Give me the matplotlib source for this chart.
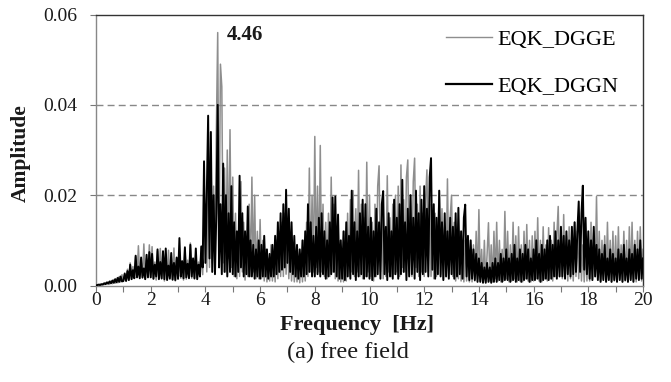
import numpy as np
import matplotlib
matplotlib.use("Agg")
import matplotlib.pyplot as plt

# Frequency grid step 0.05 Hz from 0 to 20 Hz
freq_step = 0.05
# Amplitudes in units of 1e-3
dgge_milli = [
    0.0,0.2,0.1,0.3,0.1,0.4,0.2,0.6,0.3,0.8,0.3,1.0,0.4,1.3,0.5,1.6,0.6,2.0,0.8,2.4,
    0.9,2.8,1.0,3.6,1.2,5.0,1.4,4.2,1.6,6.4,1.8,8.8,2.0,5.5,1.6,9.2,1.4,6.0,1.8,9.0,
    1.8,8.6,1.4,5.2,1.2,7.6,1.6,8.2,1.4,4.8,1.0,6.4,1.4,7.8,1.8,5.0,1.2,8.3,1.0,6.0,
    1.4,7.4,1.6,4.8,1.2,8.6,1.4,5.6,2.0,9.4,1.6,6.0,1.4,7.2,1.8,5.2,2.0,8.8,2.4,13.0,
    18,3,24,4,30,5,22,3,34,56,8,49,44,5,26,3,30,6,34.5,4,
    24,2,16,1.5,12,2,23,3,14,1.2,10,2,18,2,24,3,20,1.5,12,1.5,
    14.6,1.5,10,1,8,0.8,6,1,9,1,7,0.8,10,1.5,12,2,14,2,16,2.5,
    12,1.5,10,1,8,0.8,6,0.8,5,0.6,7,0.8,10,1,14,2,26,3,20,3,
    33,4,22,3,31,3,18,2,14,1.5,16,2,24,3,18,1.5,12,1,9,0.8,
    8,0.8,12,1,16,2,19,3,21,2,17,3,25.5,2,18,1.5,15,2,27.3,3,
    20,2,14,1,18,2,22,26.5,3,16,1.5,12,2,24.3,3,15,2,18,2.5,20,
    3,22,2,26.7,4,19,3,24,27.8,3,20,2,23,28.2,4,18,2,22,3,16,
    2,19,25.6,3,18,2,14,1.5,16,2,12,21,2.5,17,1.5,13,2,23.6,3,15,
    20,2,14,1,11,1.5,12,1,9,0.8,10,1,8,0.8,7,0.8,9,1,12,1.5,
    16.8,1,8,0.8,10,0.8,7,13.9,1,9,0.8,12,1.5,14,1,10,0.8,8,1,16.4,
    1.5,12,0.8,9,1,14,1.5,11,0.8,13,1,9,0.8,12,1.5,13.5,1,10,0.8,11,
    1,12,1.5,15,1,10,0.8,13,1.5,9,1,12.8,1.5,10,1,14,2,11,17.5,2,
    12,1.5,15.7,2,11,1,13,1.5,10,1,14,2,12,1.5,11,1,9,0.8,8,1,
    10,1,14,1.5,12,2,19.7,2,12,1,10,1.5,11,1,14,1.5,10,0.8,12,1,
    11,1,13,1.5,9,0.8,12,1,10,0.8,13,1.5,14,1,10,0.8,12,1.5,13,1,
    8,
]
dggn_milli = [
    0.0,0.1,0.2,0.1,0.3,0.2,0.5,0.3,0.7,0.4,0.9,0.5,1.1,0.6,1.4,0.7,1.7,0.8,2.0,0.9,
    1.0,2.6,1.0,3.2,1.2,4.6,1.4,3.4,1.6,6.6,1.8,4.2,1.6,6.2,1.8,3.8,1.4,6.8,1.8,7.4,
    1.8,7.0,1.5,4.6,2.0,8.0,1.4,5.2,1.6,7.6,1.4,8.2,1.2,4.4,1.5,7.2,1.3,5.0,1.2,6.2,
    1.5,10.5,2.0,5.4,1.6,8.4,1.8,4.8,1.6,9.0,2.0,6.0,1.6,8.2,1.4,4.6,2.0,8.6,4,27.5,
    5,20,37.6,6,34,3,20,2.5,16,40,4,18,2.5,27,3,20,2,16,3,22,
    2.5,14,2,12,3,24.3,4,16,2,12,2.5,17.5,2,10,2,9,1.5,8,2,10,
    1.5,9,2,11,2,8,1.5,7,2,9,2,11,2.5,14,3,16,3.5,18,4,21.2,
    5,17,3,14,2.5,11,2,9,1.5,8,2,10,2,12,2.5,18,3,14,2,11,
    2,13,2.5,15,2,16,2.5,12,1.5,10,2,14,2.5,19.5,3,19.7,2,15.7,1.5,10,
    1.5,12,1.2,14,2,11,1.5,21,2.5,14,1.2,12,2,16,2.5,19,1.5,18,2,13,
    1.5,15,1.2,12,2,17,2.5,14,1.5,18,20.9,2.5,13,1.2,16,2,12,1.5,19,2.5,
    15,1.5,18,2.5,23.4,3,14,1.2,17,2,20,2.5,15,1.5,21,3,16,1.2,19,2.5,
    22,3,17,2,24,28.2,3.5,18,1.5,15,2.5,21,2,14,1.2,16,2,12,1.5,15,
    2.5,13,1.5,16,2,17.2,2.5,12,1.5,15,17.9,2,11,1.2,10,1.5,8,1.2,7,0.8,
    6,0.8,5,0.6,4,0.6,5,0.8,4,0.6,5,0.8,6,0.8,5,1.2,7,0.8,6,1.2,
    8,1.2,6,0.8,7,1.2,9,0.8,6,1.2,8,0.8,7,1.2,9,1.5,8,0.8,6,1.2,
    8,1.2,10,1.5,7,0.8,9,1.2,8,1.5,10,1.2,11,1.5,9,2,12,1.5,10,2,
    13,2,11,1.5,12,2.5,10,2,13,2.5,14,3,12,18.6,3,16,22.1,3.5,15,2.5,
    12,1.5,10,1.2,13,2,9,1.2,8,0.8,7,1.2,9,0.8,6,1.2,8,0.8,7,1.2,
    6,0.8,8,1.2,7,0.8,9,1.2,6,0.8,8,1.2,7,0.8,9,1.5,8,1.2,10,1.5,
    6,
]
series_labels = ["EQK_DGGE", "EQK_DGGN"]
x_tick_labels = ["0", "2", "4", "6", "8", "10", "12", "14", "16", "18", "20"]
y_tick_labels = ["0.00", "0.02", "0.04", "0.06"]
peak_label = "4.46"
peak_pos = (4.79, 0.0554)

plt.rcParams['font.family'] = ['Liberation Serif', 'DejaVu Serif']

W, H = 671, 382
fig = plt.figure(figsize=(W / 100, H / 100), dpi=100)
ax_l, ax_r, ax_t, ax_b = 96, 643, 14.5, 285.5
ax = fig.add_axes([ax_l / W, 1 - ax_b / H, (ax_r - ax_l) / W, (ax_b - ax_t) / H])

f_e = np.arange(len(dgge_milli)) * freq_step
f_n = np.arange(len(dggn_milli)) * freq_step
ax.plot(f_e, np.array(dgge_milli) / 1000.0, color='#8e8e8e', lw=1.1, label=series_labels[0], zorder=2)
ax.plot(f_n, np.array(dggn_milli) / 1000.0, color='#000000', lw=1.4, label=series_labels[1], zorder=3)

ax.set_xlim(0, 20)
ax.set_ylim(0, 0.06)
ax.set_xticks(np.arange(0, 21, 2))
ax.set_xticklabels(x_tick_labels)
ax.set_xticks(np.arange(1, 20, 2), minor=True)
ax.set_yticks([0, 0.02, 0.04, 0.06])
ax.set_yticklabels(y_tick_labels)
ax.tick_params(axis='both', which='both', direction='out', length=4.5, width=0.8,
               color='#777777', labelsize=14, labelcolor='#1a1a1a')
ax.tick_params(axis='y', pad=9)
ax.tick_params(axis='x', which='both', pad=0.5)

for y in (0.02, 0.04):
    ax.axhline(y, color='#888888', lw=1.0, ls=(0, (5, 3)), zorder=1)

ax.spines['left'].set_color('#888888')
ax.spines['bottom'].set_color('#888888')
ax.spines['top'].set_color('#333333')
ax.spines['right'].set_color('#333333')
for s in ax.spines.values():
    s.set_linewidth(1.0)

fig.text(357 / W, 1 - 325 / H, 'Frequency  [Hz]', fontsize=16, fontweight='bold',
         ha='center', va='center', color='#1a1a1a')
fig.text(20.5 / W, 1 - 153 / H, 'Amplitude', fontsize=15.5, fontweight='bold',
         ha='center', va='center', rotation=90, color='#1a1a1a')

ax.text(peak_pos[0], peak_pos[1], peak_label, fontsize=15, fontweight='bold',
        ha='left', va='center', color='#1a1a1a')

leg = ax.legend(loc='upper left', frameon=False, fontsize=16, handlelength=2.07,
                handletextpad=0.25, labelspacing=1.22, borderpad=0, borderaxespad=0,
                bbox_to_anchor=(446 / W, 1 - 29 / H), bbox_transform=fig.transFigure)
leg.get_lines()[0].set_linewidth(1.0)
leg.get_lines()[1].set_linewidth(1.6)

fig.text(348 / W, 1 - 352 / H, '(a) free field', ha='center', va='center', fontsize=17.5,
         color='#1a1a1a')

fig.savefig('out.png', dpi=100)
